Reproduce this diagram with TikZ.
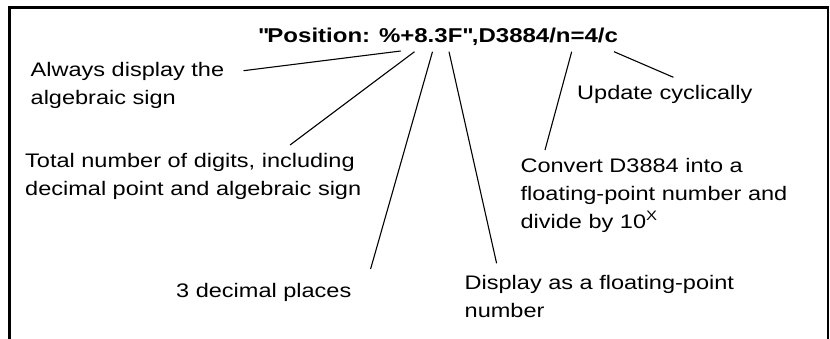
\documentclass[tikz,border=0pt]{standalone}
\usepackage{fontspec}
\setmainfont[FakeStretch=1.2]{Liberation Sans}
\begin{document}
\begin{tikzpicture}[x=1pt,y=-1pt,
  lbl/.style={anchor=base west,inner sep=0pt,align=left,font=\fontsize{19.6}{28}\selectfont},
  conn/.style={line width=1.1pt},
  frame/.style={line width=2.3pt}]
\useasboundingbox (0,0) rectangle (830,339);
\draw[frame] (9.5,339) -- (9.5,7.5) -- (828,7.5) -- (828,339);
\node[anchor=base,inner sep=0pt,font=\bfseries\fontsize{20}{28}\selectfont] (title) at (438,42.7) {\textquotedbl Position: \%+8.3F\textquotedbl,D3884/n=4/c};
\node[lbl] (sign) at (30.5,104.5) {Always display the\\algebraic sign};
\node[lbl] (total) at (25,196) {Total number of digits, including\\decimal point and algebraic sign};
\node[lbl] (dec) at (176,297.7) {3 decimal places};
\node[lbl] (float) at (464.5,317.5) {Display as a floating-point\\number};
\node[lbl] (conv) at (520.4,228.5) {Convert D3884 into a\\floating-point number and\\divide by 10\textsuperscript{X}};
\node[lbl] (upd) at (577,99.3) {Update cyclically};
\coordinate (t1) at (400.7,51); \coordinate (e1) at (243.5,70.7);
\coordinate (t2) at (414.5,51.7); \coordinate (e2) at (290,145);
\coordinate (t3) at (432.5,51.7); \coordinate (e3) at (370.6,269);
\coordinate (t4) at (449,51.7); \coordinate (e4) at (496.6,263.3);
\coordinate (t5) at (571.7,51.7); \coordinate (e5) at (545,150);
\coordinate (t6) at (614,51.7); \coordinate (e6) at (673.4,77.3);
\draw[conn] (t1) -- (e1);
\draw[conn] (t2) -- (e2);
\draw[conn] (t3) -- (e3);
\draw[conn] (t4) -- (e4);
\draw[conn] (t5) -- (e5);
\draw[conn] (t6) -- (e6);
\end{tikzpicture}
\end{document}
